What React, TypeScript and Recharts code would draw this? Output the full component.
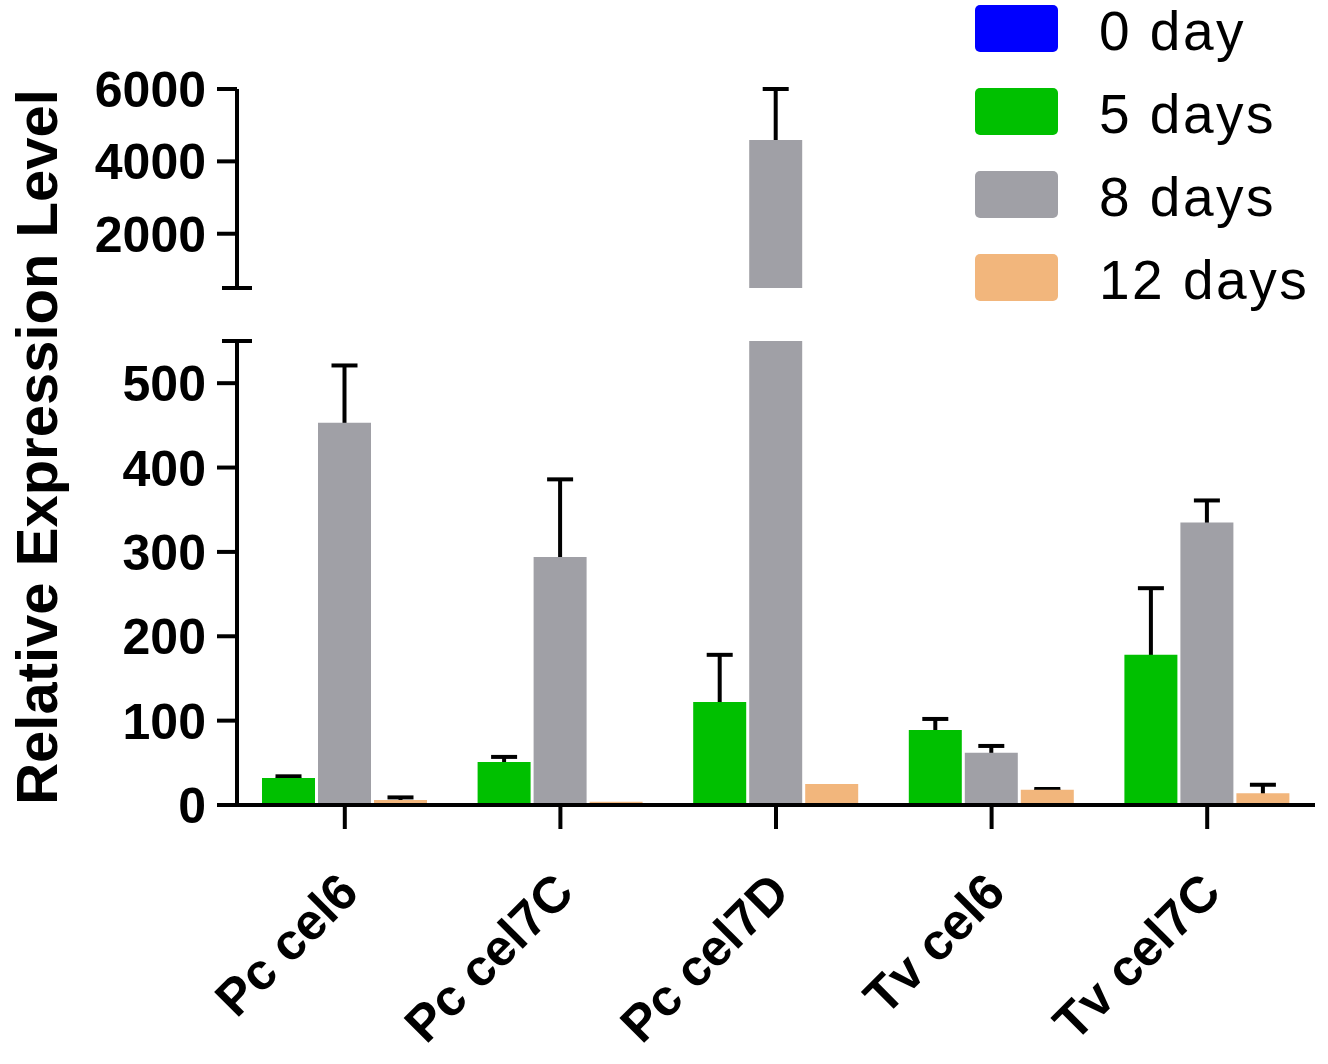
import React from 'react';
import { BarChart, Bar, XAxis, YAxis, ErrorBar } from 'recharts';

// ---- data ----
const categories = ['Pc cel6', 'Pc cel7C', 'Pc cel7D', 'Tv cel6', 'Tv cel7C'];
const seriesNames = ['0 day', '5 days', '8 days', '12 days'];
const seriesColors = ['#0000FF', '#00C000', '#A0A0A6', '#F2B67C'];
const day5 = [32, 51, 122, 89, 178];
const day5Err = [2, 6, 56, 13, 79];
const day8 = [453, 294, 4590, 62, 335];
const day8Err = [68, 92, 1410, 8, 26];
const day12 = [6, 4, 25, 18, 14];
const day12Err: (number | null)[] = [3, null, null, 1, 10];
const lowerTicks = [0, 100, 200, 300, 400, 500, 550];
const upperTicks = [500, 2000, 4000, 6000];
const LOWER_DOMAIN: [number, number] = [0, 550];
const UPPER_DOMAIN: [number, number] = [500, 6000];

// ---- layout ----
const W = 1328;
const H = 1064;
const PLOT_LEFT = 237;
const RIGHT_MARGIN = 13;
const UPPER_TOP = 89;
const UPPER_BOTTOM = 288;
const LOWER_TOP = 341;
const LOWER_BOTTOM = 805;
const X_AXIS_H = 200;
const Y_TICK_SIZE = 20;
const Y_TICK_MARGIN = 10;
const FONT = '"Liberation Sans", Arial, Helvetica, sans-serif';

const seriesDefs = [
  { key: 'd5', values: day5, errs: day5Err as (number | null)[], color: seriesColors[1], name: seriesNames[1] },
  { key: 'd8', values: day8, errs: day8Err as (number | null)[], color: seriesColors[2], name: seriesNames[2] },
  { key: 'd12', values: day12, errs: day12Err, color: seriesColors[3], name: seriesNames[3] },
];

function buildRows(segment: 'upper' | 'lower') {
  return categories.map((name, i) => {
    const row: Record<string, any> = { name };
    seriesDefs.forEach((s) => {
      const v = s.values[i];
      const e = s.errs[i];
      if (segment === 'upper') {
        const show = v > UPPER_DOMAIN[0];
        row[s.key] = show ? v : null;
        row[s.key + 'e'] = show && e != null ? e : null;
      } else {
        row[s.key] = v;
        row[s.key + 'e'] = v <= LOWER_DOMAIN[1] && e != null ? e : null;
      }
    });
    return row;
  });
}

const upperRows = buildRows('upper');
const lowerRows = buildRows('lower');

const YTick = (props: any) => {
  const { x, y, payload, capValue } = props;
  const axisX = x + Y_TICK_SIZE + Y_TICK_MARGIN;
  if (payload.value === capValue) {
    return <line x1={axisX - 15} x2={axisX + 15} y1={y} y2={y} stroke="#000" strokeWidth={4} />;
  }
  return (
    <g>
      <line x1={axisX - Y_TICK_SIZE} x2={axisX} y1={y} y2={y} stroke="#000" strokeWidth={4} />
      <text
        x={axisX - 31}
        y={y}
        dy="0.36em"
        textAnchor="end"
        fontSize={50}
        fontWeight="bold"
        fontFamily={FONT}
        fill="#000"
      >
        {payload.value}
      </text>
    </g>
  );
};

const XTick = (props: any) => {
  const { x, y, payload } = props;
  return (
    <g transform={`translate(${x + 16},${y + 66})`}>
      <text
        transform="rotate(-45)"
        textAnchor="end"
        fontSize={51}
        fontWeight="bold"
        fontFamily={FONT}
        fill="#000"
      >
        {payload.value}
      </text>
    </g>
  );
};

function Panel({ segment, layer }: { segment: 'upper' | 'lower'; layer: 'err' | 'bars' }) {
  const upper = segment === 'upper';
  const showAxes = layer === 'bars';
  const showX = showAxes && !upper;
  const data = upper ? upperRows : lowerRows;
  const margin = {
    top: upper ? UPPER_TOP : LOWER_TOP,
    right: RIGHT_MARGIN,
    left: showAxes ? 0 : PLOT_LEFT,
    bottom: upper ? H - UPPER_BOTTOM : showX ? H - LOWER_BOTTOM - X_AXIS_H : H - LOWER_BOTTOM,
  };
  const capValue = upper ? UPPER_DOMAIN[0] : LOWER_DOMAIN[1];
  return (
    <div style={{ position: 'absolute', left: 0, top: 0 }}>
      <BarChart width={W} height={H} data={data} margin={margin} barSize={53} barGap={3}>
        <XAxis
          dataKey="name"
          hide={!showX}
          height={X_AXIS_H}
          axisLine={{ stroke: '#000', strokeWidth: 4 }}
          tickLine={{ stroke: '#000', strokeWidth: 4 }}
          tickSize={24}
          tickMargin={0}
          interval={0}
          tick={(p: any) => <XTick {...p} />}
        />
        <YAxis
          hide={!showAxes}
          width={PLOT_LEFT}
          type="number"
          domain={upper ? UPPER_DOMAIN : LOWER_DOMAIN}
          ticks={upper ? upperTicks : lowerTicks}
          allowDataOverflow
          interval={0}
          axisLine={{ stroke: '#000', strokeWidth: 4 }}
          tickLine={false}
          tickSize={Y_TICK_SIZE}
          tickMargin={Y_TICK_MARGIN}
          tick={(p: any) => <YTick {...p} capValue={capValue} />}
        />
        {seriesDefs.map((s) =>
          layer === 'bars' ? (
            <Bar key={s.key} dataKey={s.key} name={s.name} fill={s.color} isAnimationActive={false} />
          ) : (
            <Bar key={s.key} dataKey={s.key} name={s.name} fill="transparent" isAnimationActive={false}>
              <ErrorBar
                dataKey={s.key + 'e'}
                width={13}
                stroke="#000"
                strokeWidth={4}
                isAnimationActive={false}
              />
            </Bar>
          )
        )}
      </BarChart>
    </div>
  );
}

export default function App() {
  return (
    <div
      style={{
        position: 'absolute',
        left: 0,
        top: 0,
        width: W,
        height: H,
        background: '#fff',
        overflow: 'hidden',
        fontFamily: FONT,
      }}
    >
      <svg width={W} height={H} style={{ position: 'absolute', left: 0, top: 0 }}>
        <text
          transform="translate(57,447) rotate(-90)"
          textAnchor="middle"
          fontSize={58}
          fontWeight="bold"
          fontFamily={FONT}
          fill="#000"
        >
          Relative Expression Level
        </text>
      </svg>
      <Panel segment="upper" layer="err" />
      <Panel segment="upper" layer="bars" />
      <Panel segment="lower" layer="err" />
      <Panel segment="lower" layer="bars" />
      <svg width={W} height={H} style={{ position: 'absolute', left: 0, top: 0 }}>
        {seriesNames.map((n, i) => (
          <g key={n}>
            <rect x={975} y={5 + i * 83} width={83} height={47} rx={5} ry={5} fill={seriesColors[i]} />
            <text
              x={1099}
              y={50 + i * 83}
              fontSize={55}
              fontFamily={FONT}
              letterSpacing={2.5}
              fill="#000"
            >
              {n}
            </text>
          </g>
        ))}
      </svg>
    </div>
  );
}
